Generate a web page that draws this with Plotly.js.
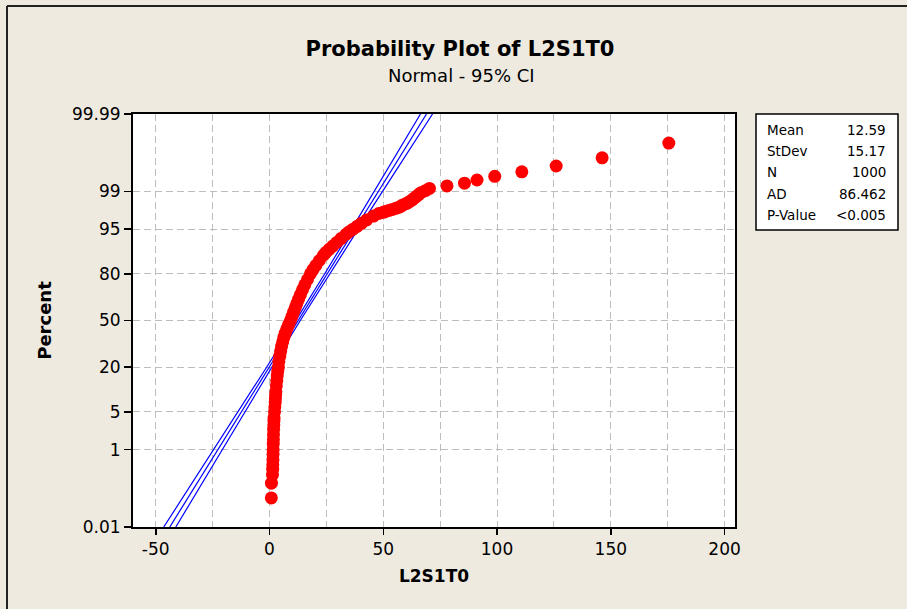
<!DOCTYPE html>
<html><head><meta charset="utf-8">
<script src="https://cdn.plot.ly/plotly-3.0.1.min.js"></script>
<style>html,body{margin:0;padding:0;background:#EEEAE0;} #chart{width:907px;height:609px;}</style>
</head><body><div id="chart"></div>
<script>
// ---- data ----
const pointPercent = [0.07,0.17,0.27,0.37,0.47,0.6,0.8,1.0,1.3,1.6,2.0,2.5,3,3.5,4,5,6,7,8,9,10,12,14,16,18,20,23,26,29,32,35,38,41,44,47,50,53,56,59,62,65,68,71,74,77,80,82,84,86,88,89,90,91,92,93,94,94.5,95,95.5,96,96.5,97,97.3,
  97.43,97.53,97.63,97.73,97.83,97.93,98.03,98.13,98.23,98.33,98.43,98.53,98.63,98.73,98.83,98.93,99.03,99.13,99.23,99.33,99.43,99.53,99.63,99.73,99.83,99.93];
const pointValue = [0.8,0.85,1.3,1.4,1.45,1.5,1.55,1.6,1.65,1.7,1.75,1.8,1.9,1.95,2.0,2.2,2.35,2.5,2.6,2.7,2.8,3.0,3.2,3.4,3.6,3.9,4.1,4.5,4.9,5.3,5.8,6.3,6.9,7.6,8.4,9.2,9.9,10.6,11.3,12.0,12.8,13.6,14.5,15.5,16.7,18.0,19.1,20.4,21.9,23.7,24.8,26.2,27.8,29.5,31.4,33.7,35.0,36.7,38.5,40.4,42.7,45.7,48,
  50,51,52.5,54,55.5,57,57.8,58.6,60,61,62,62.8,63.7,64.6,65.5,66.5,68.5,70.3,78,85.7,91.2,99,110.9,126,146.2,175.5];

const ciPercent = [0.01,0.1,1,5,10,20,35,50,65,80,90,95,99,99.9,99.99];
const ciLower   = [-46.48,-36.55,-24.51,-13.80,-8.12,-1.27,5.77,11.65,17.46,24.27,30.76,36.10,46.07,57.21,66.36];
const ciFit     = [-43.83,-34.29,-22.70,-12.36,-6.85,-0.18,6.75,12.59,18.44,25.36,32.03,37.54,47.88,59.47,69.01];
const ciUpper   = [-41.18,-32.03,-20.89,-10.92,-5.58,0.91,7.72,13.53,19.41,26.46,33.30,38.98,49.69,61.73,71.66];

const yTickPercent = [0.01,1,5,20,50,80,95,99,99.99];
const yTickText = ['0.01','1','5','20','50','80','95','99','99.99'];
const xTickVals = [-50,0,50,100,150,200];
const xTickText = ['-50','0','50','100','150','200'];

const statLabels = ['Mean','StDev','N','AD','P-Value'];
const statValues = ['12.59','15.17','1000','86.462','&lt;0.005'];

// ---- normal probability scale ----
function normInv(p){
  const a=[-3.969683028665376e+01,2.209460984245205e+02,-2.759285104469687e+02,1.383577518672690e+02,-3.066479806614716e+01,2.506628277459239e+00];
  const b=[-5.447609879822406e+01,1.615858368580409e+02,-1.556989798598866e+02,6.680131188771972e+01,-1.328068155288572e+01];
  const c=[-7.784894002430293e-03,-3.223964580411365e-01,-2.400758277161838e+00,-2.549671010380650e+00,4.374664141464968e+00,2.938163982698783e+00];
  const d=[7.784695709041462e-03,3.224671290700398e-01,2.445134137142996e+00,3.754408661907416e+00];
  const pl=0.02425, ph=1-pl; let q,r;
  if(p<pl){q=Math.sqrt(-2*Math.log(p));return (((((c[0]*q+c[1])*q+c[2])*q+c[3])*q+c[4])*q+c[5])/((((d[0]*q+d[1])*q+d[2])*q+d[3])*q+1);}
  if(p<=ph){q=p-0.5;r=q*q;return (((((a[0]*r+a[1])*r+a[2])*r+a[3])*r+a[4])*r+a[5])*q/(((((b[0]*r+b[1])*r+b[2])*r+b[3])*r+b[4])*r+1);}
  q=Math.sqrt(-2*Math.log(1-p));return -(((((c[0]*q+c[1])*q+c[2])*q+c[3])*q+c[4])*q+c[5])/((((d[0]*q+d[1])*q+d[2])*q+d[3])*q+1);
}
const toZ = arr => arr.map(p => normInv(p/100));

const blue = '#0000FF';
const ciLine = {color: blue, width: 1.2};
const traces = [
  {x: ciLower, y: toZ(ciPercent), type:'scatter', mode:'lines', line: ciLine},
  {x: ciFit,   y: toZ(ciPercent), type:'scatter', mode:'lines', line: ciLine},
  {x: ciUpper, y: toZ(ciPercent), type:'scatter', mode:'lines', line: ciLine},
  {x: pointValue, y: toZ(pointPercent), type:'scatter', mode:'markers',
   marker: {color:'#FF0000', size: 13, line:{width:0}}}
];

// pixel helpers for paper coordinates (plot area 133..735 x 114..527)
const L=133, R=735, T=114, B=527;
const px = v => (v-L)/(R-L);
const py = v => (B-v)/(B-T);

const font = 'DejaVu Sans, Verdana, sans-serif';
const grid = '#BDBDBD';
const gridDash = '7px,4px';

const annotations = [
  {text:'Normal - 95% CI', xref:'paper', yref:'paper', x:px(461), y:py(76), xanchor:'center', yanchor:'middle', showarrow:false, font:{family:font, size:18, color:'#000'}}
];
const rowY = [130,151,172,194,215];
statLabels.forEach((s,i)=>{
  annotations.push({text:s, xref:'paper', yref:'paper', x:px(765), y:py(rowY[i]), xanchor:'left', yanchor:'middle', showarrow:false, font:{family:font, size:13.5, color:'#000'}});
  annotations.push({text:statValues[i], xref:'paper', yref:'paper', x:px(888), y:py(rowY[i]), xanchor:'right', yanchor:'middle', showarrow:false, font:{family:font, size:13.5, color:'#000'}});
});

const shapes = [
  {type:'rect', xref:'paper', yref:'paper', x0:px(756), x1:px(898), y0:py(114), y1:py(230), line:{color:'#000', width:1.5}, fillcolor:'#FFFFFF'},
  {type:'line', xref:'paper', yref:'paper', x0:px(7), x1:px(910), y0:py(6), y1:py(6), line:{color:'#222', width:2}},
  {type:'line', xref:'paper', yref:'paper', x0:px(7), x1:px(7), y0:py(6), y1:py(612), line:{color:'#222', width:2}}
];

const layout = {
  width: 907, height: 609,
  paper_bgcolor: '#EEEAE0', plot_bgcolor: '#FFFFFF',
  margin: {l: L, r: 907-R, t: T, b: 609-B, pad: 0},
  showlegend: false,
  title: {text:'Probability Plot of L2S1T0', font:{family:font, size:21, weight:'bold', color:'#000'},
          x: 460/907, xanchor:'center', xref:'container', y: 1-49/609, yanchor:'middle', yref:'container'},
  xaxis: {
    range: [-60, 204.6], tickmode:'array', tickvals: xTickVals, ticktext: xTickText,
    ticks:'outside', ticklen:6, tickwidth:1.5, tickcolor:'#000',
    showline:true, linecolor:'#000', linewidth:2, mirror:true,
    showgrid:true, gridcolor:grid, griddash:gridDash, gridwidth:1,
    minor:{tickmode:'linear', tick0:0, dtick:25, showgrid:true, gridcolor:grid, griddash:gridDash, gridwidth:1, ticks:''},
    zeroline:false, tickfont:{family:font, size:17, color:'#000'},
    title:{text:'L2S1T0', font:{family:font, size:17, weight:'bold', color:'#000'}, standoff:12}
  },
  yaxis: {
    range: [normInv(yTickPercent[0]/100), normInv(yTickPercent[yTickPercent.length-1]/100)],
    tickmode:'array', tickvals: toZ(yTickPercent), ticktext: yTickText,
    ticks:'outside', ticklen:7, tickwidth:1.5, tickcolor:'#000',
    showline:true, linecolor:'#000', linewidth:2, mirror:true,
    showgrid:true, gridcolor:grid, griddash:gridDash, gridwidth:1,
    zeroline:false, tickfont:{family:font, size:17, color:'#000'},
    title:{text:'Percent', font:{family:font, size:18, weight:'bold', color:'#000'}, standoff:16}
  },
  annotations, shapes,
  hovermode:false
};

Plotly.newPlot('chart', traces, layout, {displayModeBar:false, staticPlot:true});
</script>
</body></html>
